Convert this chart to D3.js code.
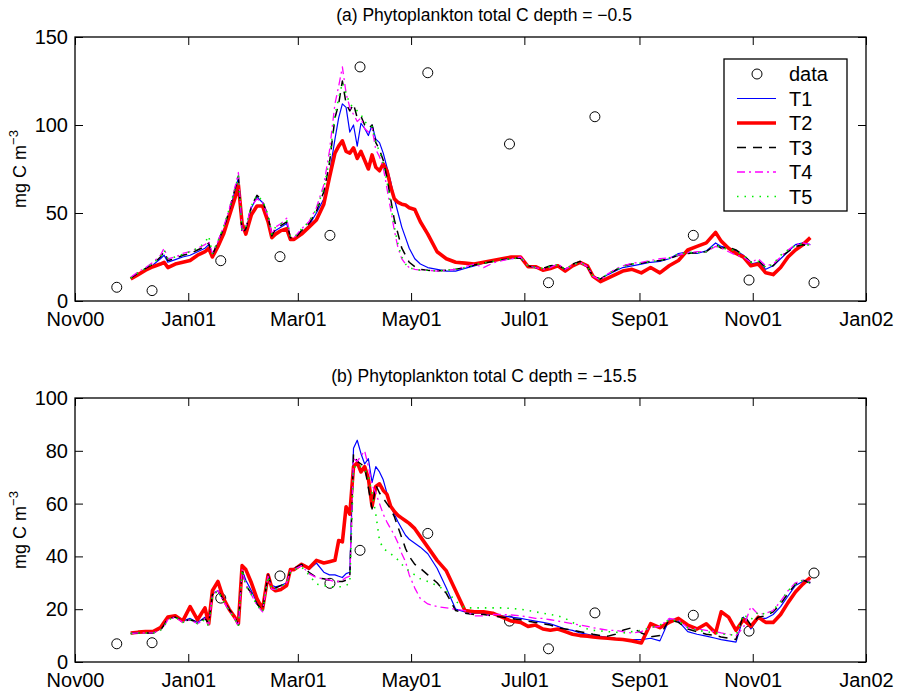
<!DOCTYPE html>
<html>
<head>
<meta charset="utf-8">
<script src="https://cdn.jsdelivr.net/npm/d3@7"></script>
<style>
  body { margin: 0; background: #fff; }
  svg { font-family: "Liberation Sans", Arial, Helvetica, sans-serif; }
</style>
</head>
<body>
<svg width="899" height="692"></svg>
<script>
// model output days, counted from 1 Nov 2000
var days = [30, 34, 38, 42, 46, 48, 50, 54, 58, 62,
    66, 70, 72, 74, 77, 80, 83, 86, 88, 90,
    92, 95, 98, 101, 104, 106, 108, 111, 114, 116,
    118, 122, 126, 130, 134, 137, 140, 142, 144, 146,
    148, 150, 152, 154, 156, 158, 160, 162, 164, 166,
    168, 170, 172, 174, 176, 178, 180, 183, 186, 190,
    195, 200, 205, 210, 215, 220, 225, 230, 235, 240,
    244, 248, 252, 256, 260, 264, 268, 272, 276, 279,
    283, 287, 291, 295, 300, 305, 310, 315, 320, 325,
    330, 335, 340, 345, 348, 352, 356, 360, 364, 368,
    372, 376, 380, 384, 388, 392, 396];

// observations (same sampling dates for both depths)
var obsDays = [22.5, 41.5, 78.5, 110.4, 137.3, 153.5, 190, 234, 255, 280, 333, 363, 398];
var obsA = [7.8, 5.9, 22.9, 25.2, 37.3, 133, 129.7, 89.2, 10.4, 104.7, 37.3, 11.9, 10.4];
var obsB = [6.9, 7.3, 24.2, 32.6, 29.8, 42.3, 48.7, 15.5, 5.0, 18.6, 17.7, 11.7, 33.7];

// (a) depth -0.5
var t1A = [13, 15.5, 18, 20.5, 24, 26, 22, 23.5, 25, 26,
    28, 30, 32, 26, 33, 40, 50, 62, 70, 45,
    40, 53, 59, 56, 47, 38, 40, 42, 44, 36,
    35, 39, 43, 50, 58, 72, 92, 104, 112, 110,
    96, 100, 88, 101, 98, 94, 100, 92, 90, 84,
    76, 68, 58, 50, 42, 36, 30, 24, 21, 19,
    18, 17, 17, 18.5, 20, 21.5, 22.5, 23.5, 24, 24.5,
    20, 19, 18, 19.5, 20.5, 17.5, 20.5, 22, 19, 14,
    12.5, 15, 17, 19, 20, 21, 22, 22.5, 24, 27,
    28, 27, 28.5, 33, 31, 30, 28.5, 26, 21, 22,
    18, 20, 24, 28, 32, 33, 32];
var t2A = [12.5, 15, 17.5, 19.5, 21, 22, 19, 21, 22, 23,
    26, 28, 30, 25, 31, 38, 48, 58, 66, 44,
    38, 49, 54, 54, 45, 36, 38, 40, 41, 35,
    35, 38, 42, 46, 55, 70, 84, 88, 91, 85,
    84, 87, 81, 85, 80, 75, 83, 76, 74, 78,
    74, 65, 58, 56, 55, 54.5, 53, 52, 45, 38,
    28, 24, 22, 21.5, 21, 22, 23, 24, 25, 25,
    19.5, 19.5, 17.5, 18.5, 20, 17, 20, 22, 20, 14,
    11, 13, 15, 17, 18, 16, 19, 16, 20, 23,
    29, 31, 33, 39, 34, 30, 27, 25, 20, 21,
    16, 15, 19, 25, 29, 32, 36];
var t3A = [13, 16, 18.5, 21, 25, 28, 23, 24, 26, 27,
    29, 31, 33, 26, 34, 41, 51, 63, 71, 38,
    41, 54, 60, 57, 48, 37, 41, 43, 45, 36,
    35, 40, 44, 51, 62, 78, 104, 112, 125, 112,
    108, 112, 104, 105, 100, 98, 100, 90, 86, 80,
    70, 58, 46, 38, 30, 26, 22, 19.5, 18, 17.5,
    17, 17.5, 18, 19, 20.5, 21.5, 22.5, 23.5, 24, 24.5,
    20, 19, 18.5, 20, 20.5, 18, 21, 22.5, 19.5, 14,
    12.5, 15.5, 17.5, 20, 21, 21.5, 22.5, 23, 24, 26,
    27, 27.5, 28, 32, 30, 30.5, 29, 26, 22, 23,
    19, 20, 25, 28, 31, 32, 31];
var t4A = [13.5, 16.5, 19, 22, 26, 30, 24, 25, 27, 28,
    30, 32, 34, 27, 34, 42, 52, 64, 73, 40,
    42, 54, 58, 56, 48, 38, 42, 44, 47, 37,
    36, 41, 45, 53, 66, 85, 112, 122, 133, 118,
    110, 106, 102, 104, 98, 96, 98, 86, 82, 76,
    64, 52, 40, 30, 24, 21, 19, 18, 17.5, 17.5,
    17, 17.5, 18, 19.5, 21, 19, 21.5, 23, 24, 25,
    20, 19, 18, 19, 21, 18, 20.5, 22, 19.5, 14,
    12, 15.5, 18, 20, 21.5, 22, 23, 24, 24.5, 26,
    27.5, 28, 28, 31, 30, 28, 26, 25, 22, 24,
    20, 21, 25, 29, 32, 33, 32];
var t5A = [13, 16, 18.5, 21.5, 25, 29, 24, 25, 26.5, 28,
    30, 33, 37, 27, 34, 42, 52, 63, 71, 40,
    42, 54, 60, 57, 49, 38, 42, 44, 46, 37,
    36, 41, 45, 52, 64, 80, 106, 115, 124, 118,
    112, 110, 108, 106, 102, 100, 99, 90, 85, 78,
    68, 55, 42, 32, 25, 21, 19, 18, 17.5, 17.5,
    17, 17.5, 18, 19, 20.5, 21.5, 22.5, 23.5, 24, 24.5,
    20, 19, 18.5, 19.5, 20.5, 18, 20.5, 22, 19.5, 14,
    12.5, 15.5, 17.5, 19.5, 21, 21.5, 22.5, 23, 24.5, 26.5,
    27.5, 27.5, 28, 32, 30, 29.5, 28.5, 26, 22, 22.5,
    19, 21, 26, 29, 31.5, 32.5, 31.5];

// (b) depth -15.5
var t1B = [10.8, 11, 11, 11, 12.5, 14, 16.5, 17, 15.5, 16.5,
    15, 17, 14.5, 26, 27, 23.5, 20, 17, 14, 35,
    31, 27, 22.5, 20, 33.5, 29, 28.5, 29, 30, 34.5,
    35.5, 37, 35, 37.5, 34, 33, 33, 32.5, 32, 33.5,
    34, 81, 84, 79, 75, 77, 68, 74, 72, 69,
    64, 59, 56, 53, 50.5, 48, 46.5, 45, 43.5, 41,
    35.5, 28, 20, 19, 18.5, 18.5, 18, 17.5, 17, 16.5,
    16, 15.5, 15, 14.5, 13.5, 12.5, 12, 11, 10.5, 10,
    9.7, 9.3, 9, 8.5, 8.5, 8.5, 9, 8, 16, 15.5,
    11.5, 10.5, 9.8, 9, 8.5, 8, 7.5, 17, 12.5, 16.5,
    16.5, 18, 21, 25, 29, 30.5, 30];
var t2B = [11, 11.3, 11.5, 11.5, 13, 15, 17, 17.5, 15.5, 21,
    16, 20.5, 14.5, 27, 30.5, 24, 20, 17, 14.5, 36.5,
    35, 30, 24, 20, 33, 28, 27, 27.5, 29, 35,
    35, 37, 35.5, 38.5, 37.5, 38, 38.5, 46, 45.5, 58.8,
    56, 74, 75.5, 72, 74, 69.5, 59, 66.5, 67.5, 65,
    63.5, 59, 57, 55.5, 54.5, 53.5, 52.5, 50.5, 47.5, 43.5,
    38.5, 34.5, 27, 19.5, 19, 19, 18.5, 17, 15.5, 15,
    13.5, 14, 12.5, 12, 12.5, 11.5, 10.5, 10, 9.8, 9.5,
    9.2, 9, 8.7, 8.5, 8, 7.2, 14.5, 13, 15, 16.5,
    14, 12.5, 14.5, 11, 19, 17, 12, 16, 13.5, 17,
    15, 15, 18, 22.5, 26.5, 29.5, 32];
var t3B = [10.8, 11, 11, 11, 12, 14, 16.5, 17, 15.5, 16,
    15, 16.5, 14.5, 25.5, 27, 23.5, 20, 17, 14, 35,
    29, 26, 22, 19.5, 33, 28.5, 28, 29, 30, 34.5,
    35.5, 37, 34, 32, 31.5, 31, 30.5, 30.5, 30.5, 31,
    32, 79, 76, 75, 74, 66, 58, 67, 64, 62,
    60, 58, 55, 51, 47, 43, 40, 37, 35.5, 33,
    30, 26, 19.5, 18.5, 18, 18, 17.5, 17, 16.5, 16,
    15.5, 15, 14.5, 14, 13, 12.5, 12, 11.5, 11, 10.5,
    10, 9.8, 10.5, 12, 13, 11, 9.5, 10, 16, 15,
    12.5, 11.5, 10.5, 10, 9.5, 9, 8.5, 18, 14, 17,
    17.5, 19, 22, 26, 29.5, 31, 30];
var t4B = [10.8, 11, 11, 11, 12, 13.5, 16, 17, 15, 16,
    14.5, 16.5, 14, 25.5, 27, 23, 19.5, 16.5, 13.5, 35,
    29, 25.5, 21.5, 19, 32.5, 27.5, 27.5, 28.5, 30, 34.5,
    35, 36.5, 33.5, 32, 31.5, 31, 30.5, 30.5, 31, 32,
    32.5, 77, 76, 78, 80, 74, 67, 64, 60, 56,
    53, 50.5, 48, 45, 41, 38, 33, 28, 24, 22,
    21, 20.5, 20, 19.5, 17.5, 17.5, 18, 18, 17.8, 17.5,
    17, 16.5, 16.5, 16, 15.5, 15, 14.5, 14, 13.5, 13,
    12.5, 12, 12, 11.5, 11, 11.5, 13, 13.5, 16.5, 16,
    13, 12.5, 12, 11.5, 11, 10.5, 10, 13, 21, 18,
    18.5, 19.5, 23, 27, 30, 31, 30.5];
var t5B = [10.8, 11, 11, 11, 12, 13.5, 16, 17, 15, 16,
    14.5, 16, 13.5, 25, 27, 23, 19.5, 16.5, 13.5, 35,
    29, 25.5, 21.5, 19, 32.5, 27.5, 27.5, 28.5, 30, 34,
    35, 36, 33, 29.5, 29, 28.5, 28.5, 28.5, 28.5, 29,
    29.8, 73, 75, 74, 73, 70, 64, 56, 46, 43,
    42, 41, 40, 38.6, 37, 35.5, 34.5, 33, 31.5, 30.5,
    29, 27, 23, 20.5, 20.5, 20.5, 20.5, 20.5, 20.3, 20,
    19.5, 19, 18.5, 18, 17.5, 16.5, 15, 13.5, 12.5, 12,
    11.8, 11.5, 11.3, 11, 11.5, 12, 13, 14, 16, 15.5,
    13, 12, 11.5, 11, 10.5, 10.5, 10, 18, 16, 19,
    18, 19.5, 23, 27, 29.5, 31, 30];

var seriesNames = ["T1", "T2", "T3", "T4", "T5"];
var styles = [
    {color: "#0000ff", width: 1.2, dash: null},
    {color: "#ff0000", width: 3.6, dash: null},
    {color: "#000000", width: 1.5, dash: "9,7"},
    {color: "#ff00ff", width: 1.3, dash: "8,4,2,4"},
    {color: "#00ee00", width: 1.6, dash: "1.5,6"}
];

var svg = d3.select("svg"),
    margin = {left: 75, right: 33},
    width = +svg.attr("width") - margin.left - margin.right,
    height = 264;

var start = new Date(2000, 10, 1);
function toDate(d) { return new Date(+start + d * 864e5); }

var x = d3.scaleTime()
    .domain([start, new Date(2002, 0, 1)])
    .range([0, width]);

var monthTicks = d3.timeMonth.every(2);

function drawPanel(top, yMax, yStep, title, obs, series, legend) {
    var y = d3.scaleLinear().domain([0, yMax]).range([height, 0]);
    var yTicks = d3.range(0, yMax + 1, yStep);

    var g = svg.append("g")
        .attr("transform", "translate(" + margin.left + "," + top + ")");

    g.append("g")
        .attr("transform", "translate(0," + height + ")")
        .call(d3.axisBottom(x).ticks(monthTicks).tickFormat(d3.timeFormat("%b%y"))
            .tickSizeInner(-8).tickSizeOuter(0).tickPadding(11));
    g.append("g")
        .call(d3.axisTop(x).ticks(monthTicks).tickFormat("")
            .tickSizeInner(-8).tickSizeOuter(0));
    g.append("g")
        .call(d3.axisLeft(y).tickValues(yTicks)
            .tickSizeInner(-8).tickSizeOuter(0).tickPadding(7));
    g.append("g")
        .attr("transform", "translate(" + width + ",0)")
        .call(d3.axisRight(y).tickValues(yTicks).tickFormat("")
            .tickSizeInner(-8).tickSizeOuter(0));

    g.selectAll(".domain").remove();
    g.selectAll(".tick line").attr("stroke", "#000").attr("stroke-width", 1);
    g.selectAll(".tick text")
        .attr("fill", "#000")
        .style("font-size", "20px");

    g.append("rect")
        .attr("width", width)
        .attr("height", height)
        .attr("fill", "none")
        .attr("stroke", "#000")
        .attr("stroke-width", 1.3);

    // observations
    g.selectAll(".obs")
        .data(obsDays)
        .enter().append("circle")
        .attr("class", "obs")
        .attr("cx", function(d) { return x(toDate(d)); })
        .attr("cy", function(d, i) { return y(obs[i]); })
        .attr("r", 5)
        .attr("fill", "none")
        .attr("stroke", "#000")
        .attr("stroke-width", 1);

    var line = d3.line()
        .x(function(d, i) { return x(toDate(days[i])); })
        .y(function(d) { return y(d); });

    series.forEach(function(s, k) {
        g.append("path")
            .datum(s)
            .attr("fill", "none")
            .attr("stroke", styles[k].color)
            .attr("stroke-width", styles[k].width)
            .attr("stroke-dasharray", styles[k].dash)
            .attr("stroke-linejoin", "round")
            .attr("d", line);
    });

    svg.append("text")
        .attr("x", 484)
        .attr("y", top - 16)
        .attr("text-anchor", "middle")
        .style("font-size", "17.5px")
        .text(title);

    var lab = svg.append("text")
        .attr("transform", "rotate(-90)")
        .attr("x", -(top + height / 2))
        .attr("y", 26)
        .attr("text-anchor", "middle")
        .style("font-size", "18px");
    lab.append("tspan").text("mg C m");
    lab.append("tspan").attr("dy", -8).style("font-size", "13px").text("\u22123");

    if (legend) {
        var lg = svg.append("g").attr("transform", "translate(724,59)");
        lg.append("rect")
            .attr("width", 123)
            .attr("height", 152)
            .attr("fill", "#fff")
            .attr("stroke", "#000")
            .attr("stroke-width", 1.3);
        var labels = ["data"].concat(seriesNames);
        labels.forEach(function(name, i) {
            var ry = 15 + i * 24.5;
            if (i === 0) {
                lg.append("circle")
                    .attr("cx", 33).attr("cy", ry).attr("r", 5)
                    .attr("fill", "none").attr("stroke", "#000");
            } else {
                var st = styles[i - 1];
                lg.append("line")
                    .attr("x1", 13).attr("x2", 52)
                    .attr("y1", ry).attr("y2", ry)
                    .attr("stroke", st.color)
                    .attr("stroke-width", st.width)
                    .attr("stroke-dasharray", st.dash);
            }
            lg.append("text")
                .attr("x", 65)
                .attr("y", ry)
                .attr("dy", "0.36em")
                .style("font-size", "20px")
                .text(name);
        });
    }
}

drawPanel(37, 150, 50, "(a) Phytoplankton total C depth = \u22120.5", obsA,
    [t1A, t2A, t3A, t4A, t5A], true);
drawPanel(398, 100, 20, "(b) Phytoplankton total C depth = \u221215.5", obsB,
    [t1B, t2B, t3B, t4B, t5B], false);
</script>
</body>
</html>
